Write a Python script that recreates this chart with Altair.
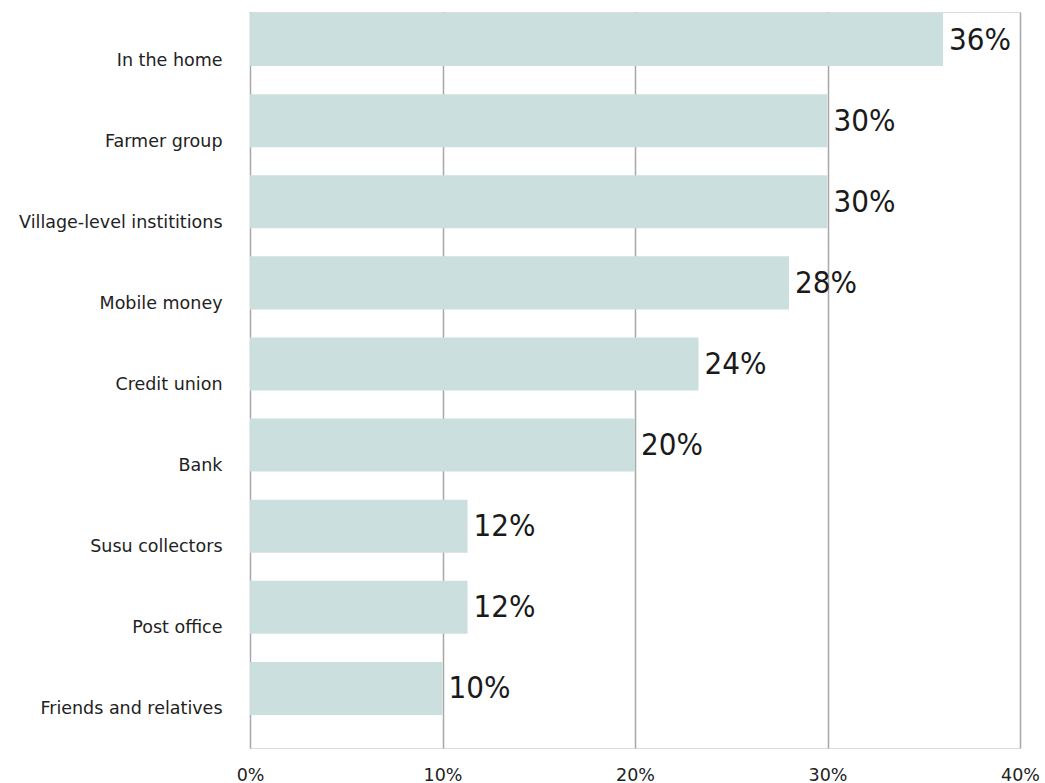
import altair as alt
import pandas as pd

categories = ["In the home", "Farmer group", "Village-level instititions", "Mobile money",
              "Credit union", "Bank", "Susu collectors", "Post office", "Friends and relatives"]
values = [36, 30, 30, 28, 23.3, 20, 11.3, 11.3, 10]
labels = ["36%", "30%", "30%", "28%", "24%", "20%", "12%", "12%", "10%"]
x_ticks = [0, 10, 20, 30, 40]

df = pd.DataFrame({"cat": categories, "val": values, "lab": labels})

AXIS_FONT = "DejaVu Sans"

y_enc = alt.Y("cat:N", sort=categories, title=None,
              scale=alt.Scale(paddingInner=0.346, paddingOuter=0.21, align=0.03),
              axis=alt.Axis(domain=False, ticks=False, labelPadding=28, labelOffset=21,
                            labelFont=AXIS_FONT, labelFontSize=17.5, labelColor="#222222",
                            labelLimit=300, grid=False))
x_enc = alt.X("val:Q", title=None,
              scale=alt.Scale(domain=[0, 40], nice=False),
              axis=alt.Axis(values=x_ticks, labelExpr="datum.value + '%'", domain=False, ticks=False,
                            grid=True, gridColor="#a8a8a8", gridWidth=1.5, labelPadding=18,
                            labelFlush=False,
                            labelFont=AXIS_FONT, labelFontSize=17.5, labelColor="#222222"))

bars = alt.Chart(df).mark_bar(color="#cbdfde").encode(x=x_enc, y=y_enc)
text = alt.Chart(df).mark_text(align="left", baseline="middle", dx=6, dy=1,
                               font="DejaVu Sans Condensed, Liberation Sans Narrow, Roboto, sans-serif",
                               fontSize=31, color="#1a1a1a").encode(
    x="val:Q", y=alt.Y("cat:N", sort=categories), text="lab:N")

chart = (bars + text).properties(
    width=770, height=736,
    autosize=alt.AutoSizeParams(type="none"),
    padding={"left": 250, "top": 12, "right": 25, "bottom": 35},
).configure_view(stroke="transparent", strokeWidth=0).configure(background="white")

chart.save("out.html", embed_options={"renderer": "svg", "actions": False})
